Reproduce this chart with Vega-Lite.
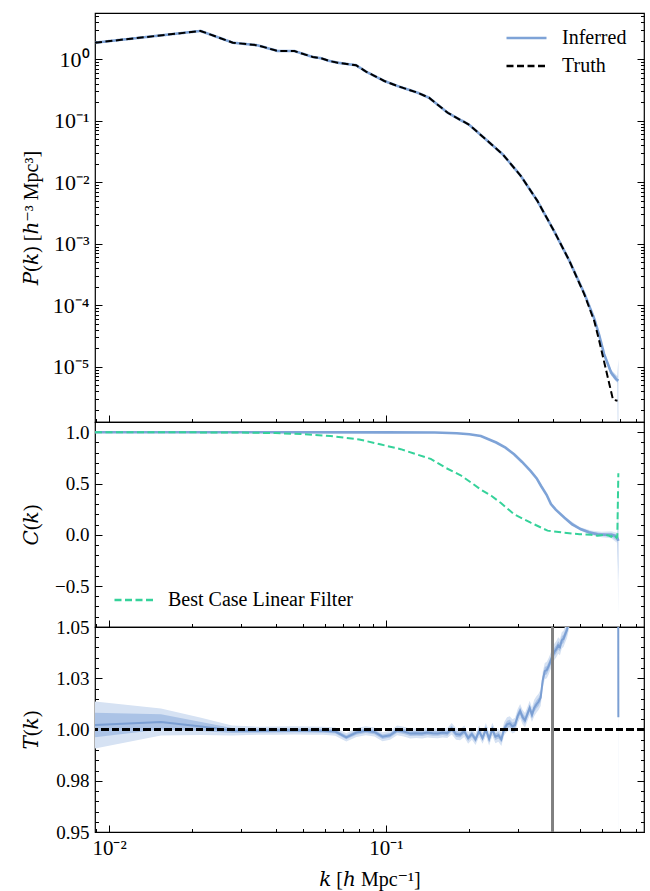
{
  "$schema": "https://vega.github.io/schema/vega-lite/v6.json",
  "padding": {"left": 20, "top": 12, "right": 5, "bottom": 5},
  "spacing": 0,
  "bounds": "flush",
  "resolve": {"scale": {"color": "independent", "strokeDash": "independent"}},
  "config": {
    "font": "Liberation Serif",
    "view": {"stroke": "#000000", "strokeWidth": 1.2},
    "axis": {"domain": false, "grid": false, "labelFont": "Liberation Serif", "labelFontSize": 19, "labelColor": "#000000", "titleFont": "Liberation Serif, DejaVu Serif", "titleFontSize": 20, "titleFontWeight": "normal", "titleColor": "#000000", "tickColor": "#000000", "tickWidth": 1, "labelOverlap": false, "labelFlush": false},
    "legend": {"labelFont": "Liberation Serif", "labelFontSize": 20, "labelColor": "#000000"}
  },
  "datasets": {
    "pk": [
      {"k": 0.0089, "P": 1.86, "s": "Truth"}, {"k": 0.0214, "P": 2.89, "s": "Truth"}, {"k": 0.028, "P": 1.86, "s": "Truth"}, {"k": 0.0344, "P": 1.69, "s": "Truth"}, {"k": 0.0407, "P": 1.36, "s": "Truth"}, {"k": 0.0467, "P": 1.36, "s": "Truth"}, {"k": 0.0544, "P": 1.09, "s": "Truth"}, {"k": 0.0583, "P": 1.04, "s": "Truth"}, {"k": 0.0624, "P": 0.94, "s": "Truth"}, {"k": 0.0669, "P": 0.88, "s": "Truth"}, {"k": 0.078, "P": 0.8, "s": "Truth"}, {"k": 0.0847, "P": 0.63, "s": "Truth"}, {"k": 0.0986, "P": 0.444, "s": "Truth"}, {"k": 0.11, "P": 0.368, "s": "Truth"}, {"k": 0.13, "P": 0.286, "s": "Truth"}, {"k": 0.143, "P": 0.237, "s": "Truth"}, {"k": 0.167, "P": 0.135, "s": "Truth"}, {"k": 0.2, "P": 0.0855, "s": "Truth"}, {"k": 0.229, "P": 0.05, "s": "Truth"}, {"k": 0.264, "P": 0.0284, "s": "Truth"}, {"k": 0.307, "P": 0.0126, "s": "Truth"}, {"k": 0.352, "P": 0.00498, "s": "Truth"}, {"k": 0.404, "P": 0.00162, "s": "Truth"}, {"k": 0.459, "P": 0.00053, "s": "Truth"}, {"k": 0.52, "P": 0.00015, "s": "Truth"}, {"k": 0.565, "P": 0.000055, "s": "Truth"}, {"k": 0.589, "P": 0.000026, "s": "Truth"}, {"k": 0.66, "P": 0.0000029, "s": "Truth"}, {"k": 0.685, "P": 0.0000028, "s": "Truth"},
      {"k": 0.0089, "P": 1.86, "s": "Inferred"}, {"k": 0.0214, "P": 2.89, "s": "Inferred"}, {"k": 0.028, "P": 1.86, "s": "Inferred"}, {"k": 0.0344, "P": 1.69, "s": "Inferred"}, {"k": 0.0407, "P": 1.36, "s": "Inferred"}, {"k": 0.0467, "P": 1.36, "s": "Inferred"}, {"k": 0.0544, "P": 1.09, "s": "Inferred"}, {"k": 0.0583, "P": 1.04, "s": "Inferred"}, {"k": 0.0624, "P": 0.94, "s": "Inferred"}, {"k": 0.0669, "P": 0.88, "s": "Inferred"}, {"k": 0.078, "P": 0.8, "s": "Inferred"}, {"k": 0.0847, "P": 0.63, "s": "Inferred"}, {"k": 0.0986, "P": 0.444, "s": "Inferred"}, {"k": 0.11, "P": 0.368, "s": "Inferred"}, {"k": 0.13, "P": 0.286, "s": "Inferred"}, {"k": 0.143, "P": 0.237, "s": "Inferred"}, {"k": 0.167, "P": 0.135, "s": "Inferred"}, {"k": 0.2, "P": 0.0855, "s": "Inferred"}, {"k": 0.229, "P": 0.05, "s": "Inferred"}, {"k": 0.264, "P": 0.0284, "s": "Inferred"}, {"k": 0.307, "P": 0.0126, "s": "Inferred"}, {"k": 0.352, "P": 0.00498, "s": "Inferred"}, {"k": 0.404, "P": 0.00162, "s": "Inferred"}, {"k": 0.459, "P": 0.00053, "s": "Inferred"}, {"k": 0.52, "P": 0.000155, "s": "Inferred"}, {"k": 0.565, "P": 0.00006, "s": "Inferred"}, {"k": 0.589, "P": 0.000032, "s": "Inferred"}, {"k": 0.613, "P": 0.000016, "s": "Inferred"}, {"k": 0.65, "P": 0.000008, "s": "Inferred"}, {"k": 0.677, "P": 0.0000063, "s": "Inferred"}, {"k": 0.69, "P": 0.0000059, "s": "Inferred"}
    ],
    "pkband": [
      {"k": 0.613, "lo": 0.0000148, "hi": 0.0000172},
      {"k": 0.65, "lo": 0.0000072, "hi": 0.0000088},
      {"k": 0.684, "lo": 0.0000055, "hi": 0.000007},
      {"k": 0.69, "lo": 0.0000001, "hi": 0.0000133}
    ],
    "cb": [
      {"k": 0.0089, "c": 1.0}, {"k": 0.1, "c": 0.999}, {"k": 0.15, "c": 0.997}, {"k": 0.18, "c": 0.99}, {"k": 0.2, "c": 0.98}, {"k": 0.22, "c": 0.963}, {"k": 0.25, "c": 0.9}, {"k": 0.27, "c": 0.85}, {"k": 0.29, "c": 0.785}, {"k": 0.31, "c": 0.71}, {"k": 0.333, "c": 0.62}, {"k": 0.35, "c": 0.55}, {"k": 0.363, "c": 0.476}, {"k": 0.38, "c": 0.39}, {"k": 0.394, "c": 0.3}, {"k": 0.41, "c": 0.245}, {"k": 0.441, "c": 0.166}, {"k": 0.47, "c": 0.1}, {"k": 0.506, "c": 0.053}, {"k": 0.54, "c": 0.025}, {"k": 0.58, "c": 0.004}, {"k": 0.62, "c": 0.0}, {"k": 0.65, "c": 0.0}, {"k": 0.67, "c": -0.01}, {"k": 0.684, "c": -0.03}, {"k": 0.69, "c": -0.06}
    ],
    "cband": [
      {"k": 0.45, "ilo": 0.145, "ihi": 0.155, "olo": 0.14, "ohi": 0.16},
      {"k": 0.5, "ilo": 0.052, "ihi": 0.068, "olo": 0.045, "ohi": 0.075},
      {"k": 0.55, "ilo": 0.008, "ihi": 0.032, "olo": -0.002, "ohi": 0.042},
      {"k": 0.6, "ilo": -0.013, "ihi": 0.017, "olo": -0.025, "ohi": 0.03},
      {"k": 0.65, "ilo": -0.02, "ihi": 0.02, "olo": -0.035, "ohi": 0.035},
      {"k": 0.684, "ilo": -0.06, "ihi": 0.0, "olo": -0.08, "ohi": 0.02},
      {"k": 0.69, "ilo": -0.44, "ihi": 0.14, "olo": -0.79, "ohi": 0.665}
    ],
    "cg": [
      {"k": 0.0089, "g": 1.0, "s": "Best Case Linear Filter"}, {"k": 0.02, "g": 0.999, "s": "Best Case Linear Filter"}, {"k": 0.03, "g": 0.997, "s": "Best Case Linear Filter"}, {"k": 0.04, "g": 0.992, "s": "Best Case Linear Filter"}, {"k": 0.05, "g": 0.982, "s": "Best Case Linear Filter"}, {"k": 0.063, "g": 0.963, "s": "Best Case Linear Filter"}, {"k": 0.08, "g": 0.93, "s": "Best Case Linear Filter"}, {"k": 0.096, "g": 0.88, "s": "Best Case Linear Filter"}, {"k": 0.113, "g": 0.835, "s": "Best Case Linear Filter"}, {"k": 0.127, "g": 0.79, "s": "Best Case Linear Filter"}, {"k": 0.145, "g": 0.74, "s": "Best Case Linear Filter"}, {"k": 0.165, "g": 0.65, "s": "Best Case Linear Filter"}, {"k": 0.186, "g": 0.58, "s": "Best Case Linear Filter"}, {"k": 0.205, "g": 0.5, "s": "Best Case Linear Filter"}, {"k": 0.22, "g": 0.44, "s": "Best Case Linear Filter"}, {"k": 0.24, "g": 0.38, "s": "Best Case Linear Filter"}, {"k": 0.26, "g": 0.31, "s": "Best Case Linear Filter"}, {"k": 0.29, "g": 0.2, "s": "Best Case Linear Filter"}, {"k": 0.333, "g": 0.118, "s": "Best Case Linear Filter"}, {"k": 0.383, "g": 0.04, "s": "Best Case Linear Filter"}, {"k": 0.44, "g": 0.02, "s": "Best Case Linear Filter"}, {"k": 0.5, "g": 0.005, "s": "Best Case Linear Filter"}, {"k": 0.55, "g": 0.0, "s": "Best Case Linear Filter"}, {"k": 0.58, "g": -0.01, "s": "Best Case Linear Filter"}, {"k": 0.62, "g": 0.0, "s": "Best Case Linear Filter"}, {"k": 0.64, "g": -0.01, "s": "Best Case Linear Filter"}, {"k": 0.65, "g": -0.02, "s": "Best Case Linear Filter"}, {"k": 0.66, "g": 0.0, "s": "Best Case Linear Filter"}, {"k": 0.67, "g": -0.01, "s": "Best Case Linear Filter"}, {"k": 0.68, "g": -0.03, "s": "Best Case Linear Filter"}, {"k": 0.684, "g": -0.02, "s": "Best Case Linear Filter"}, {"k": 0.69, "g": 0.6, "s": "Best Case Linear Filter"}
    ],
    "tk": [
      {"k": 0.0089, "t": 1.0022, "ilo": 0.9962, "ihi": 1.0082, "olo": 0.9907, "ohi": 1.0137},
      {"k": 0.0154, "t": 1.0037, "ilo": 1.0000, "ihi": 1.0074, "olo": 0.9971, "ohi": 1.0103},
      {"k": 0.0215, "t": 1.0015, "ilo": 0.9993, "ihi": 1.0037, "olo": 0.9973, "ohi": 1.0057},
      {"k": 0.0278, "t": 0.9995, "ilo": 0.9983, "ihi": 1.0007, "olo": 0.9971, "ohi": 1.0019},
      {"k": 0.0341, "t": 0.9994, "ilo": 0.9984, "ihi": 1.0004, "olo": 0.9974, "ohi": 1.0014},
      {"k": 0.0404, "t": 0.9995, "ilo": 0.9985, "ihi": 1.0005, "olo": 0.9975, "ohi": 1.0015},
      {"k": 0.0467, "t": 0.9996, "ilo": 0.9986, "ihi": 1.0006, "olo": 0.9976, "ohi": 1.0016},
      {"k": 0.0530, "t": 0.9995, "ilo": 0.9985, "ihi": 1.0005, "olo": 0.9975, "ohi": 1.0015},
      {"k": 0.0593, "t": 0.9994, "ilo": 0.9984, "ihi": 1.0004, "olo": 0.9974, "ohi": 1.0014},
      {"k": 0.0656, "t": 0.9990, "ilo": 0.9980, "ihi": 1.0000, "olo": 0.9970, "ohi": 1.0010},
      {"k": 0.0719, "t": 0.9962, "ilo": 0.9952, "ihi": 0.9972, "olo": 0.9942, "ohi": 0.9982},
      {"k": 0.0782, "t": 0.9985, "ilo": 0.9974, "ihi": 0.9996, "olo": 0.9963, "ohi": 1.0007},
      {"k": 0.0845, "t": 0.9994, "ilo": 0.9983, "ihi": 1.0005, "olo": 0.9972, "ohi": 1.0016},
      {"k": 0.0908, "t": 0.9988, "ilo": 0.9977, "ihi": 0.9999, "olo": 0.9966, "ohi": 1.0010},
      {"k": 0.0971, "t": 0.9965, "ilo": 0.9954, "ihi": 0.9976, "olo": 0.9943, "ohi": 0.9987},
      {"k": 0.1034, "t": 0.9972, "ilo": 0.9961, "ihi": 0.9983, "olo": 0.9950, "ohi": 0.9994},
      {"k": 0.1097, "t": 0.9996, "ilo": 0.9984, "ihi": 1.0008, "olo": 0.9972, "ohi": 1.0020},
      {"k": 0.1160, "t": 0.9990, "ilo": 0.9978, "ihi": 1.0002, "olo": 0.9966, "ohi": 1.0014},
      {"k": 0.1223, "t": 0.9980, "ilo": 0.9968, "ihi": 0.9992, "olo": 0.9956, "ohi": 1.0004},
      {"k": 0.1286, "t": 0.9982, "ilo": 0.9970, "ihi": 0.9994, "olo": 0.9958, "ohi": 1.0006},
      {"k": 0.1349, "t": 0.9980, "ilo": 0.9968, "ihi": 0.9992, "olo": 0.9956, "ohi": 1.0004},
      {"k": 0.1412, "t": 0.9985, "ilo": 0.9973, "ihi": 0.9997, "olo": 0.9961, "ohi": 1.0009},
      {"k": 0.1475, "t": 0.9982, "ilo": 0.9970, "ihi": 0.9994, "olo": 0.9958, "ohi": 1.0006},
      {"k": 0.1538, "t": 0.9981, "ilo": 0.9969, "ihi": 0.9993, "olo": 0.9957, "ohi": 1.0005},
      {"k": 0.1601, "t": 0.9985, "ilo": 0.9973, "ihi": 0.9997, "olo": 0.9961, "ohi": 1.0009},
      {"k": 0.1664, "t": 0.9982, "ilo": 0.9970, "ihi": 0.9994, "olo": 0.9958, "ohi": 1.0006},
      {"k": 0.1727, "t": 1.0004, "ilo": 0.9990, "ihi": 1.0018, "olo": 0.9976, "ohi": 1.0032},
      {"k": 0.1790, "t": 0.9978, "ilo": 0.9964, "ihi": 0.9992, "olo": 0.9950, "ohi": 1.0006},
      {"k": 0.1853, "t": 0.9975, "ilo": 0.9961, "ihi": 0.9989, "olo": 0.9947, "ohi": 1.0003},
      {"k": 0.1916, "t": 0.9992, "ilo": 0.9978, "ihi": 1.0006, "olo": 0.9964, "ohi": 1.0020},
      {"k": 0.1979, "t": 0.9958, "ilo": 0.9944, "ihi": 0.9972, "olo": 0.9930, "ohi": 0.9986},
      {"k": 0.2042, "t": 0.9978, "ilo": 0.9964, "ihi": 0.9992, "olo": 0.9950, "ohi": 1.0006},
      {"k": 0.2105, "t": 0.9952, "ilo": 0.9938, "ihi": 0.9966, "olo": 0.9924, "ohi": 0.9980},
      {"k": 0.2168, "t": 0.9992, "ilo": 0.9978, "ihi": 1.0006, "olo": 0.9964, "ohi": 1.0020},
      {"k": 0.2231, "t": 0.9958, "ilo": 0.9944, "ihi": 0.9972, "olo": 0.9930, "ohi": 0.9986},
      {"k": 0.2294, "t": 1.0000, "ilo": 0.9984, "ihi": 1.0016, "olo": 0.9968, "ohi": 1.0032},
      {"k": 0.2357, "t": 0.9954, "ilo": 0.9938, "ihi": 0.9970, "olo": 0.9922, "ohi": 0.9986},
      {"k": 0.2420, "t": 1.0001, "ilo": 0.9985, "ihi": 1.0017, "olo": 0.9969, "ohi": 1.0033},
      {"k": 0.2483, "t": 0.9965, "ilo": 0.9949, "ihi": 0.9981, "olo": 0.9933, "ohi": 0.9997},
      {"k": 0.2546, "t": 0.9972, "ilo": 0.9956, "ihi": 0.9988, "olo": 0.9940, "ohi": 1.0004},
      {"k": 0.2609, "t": 0.9952, "ilo": 0.9936, "ihi": 0.9968, "olo": 0.9920, "ohi": 0.9984},
      {"k": 0.2672, "t": 1.0004, "ilo": 0.9988, "ihi": 1.0020, "olo": 0.9972, "ohi": 1.0036},
      {"k": 0.2735, "t": 1.0025, "ilo": 1.0007, "ihi": 1.0043, "olo": 0.9990, "ohi": 1.0060},
      {"k": 0.2798, "t": 1.0030, "ilo": 1.0012, "ihi": 1.0048, "olo": 0.9995, "ohi": 1.0065},
      {"k": 0.2861, "t": 1.0015, "ilo": 0.9997, "ihi": 1.0033, "olo": 0.9980, "ohi": 1.0050},
      {"k": 0.2924, "t": 1.0022, "ilo": 1.0004, "ihi": 1.0040, "olo": 0.9987, "ohi": 1.0057},
      {"k": 0.2987, "t": 1.0065, "ilo": 1.0047, "ihi": 1.0083, "olo": 1.0030, "ohi": 1.0100},
      {"k": 0.3050, "t": 1.0090, "ilo": 1.0072, "ihi": 1.0108, "olo": 1.0055, "ohi": 1.0125},
      {"k": 0.3113, "t": 1.0060, "ilo": 1.0042, "ihi": 1.0078, "olo": 1.0025, "ohi": 1.0095},
      {"k": 0.3176, "t": 1.0045, "ilo": 1.0027, "ihi": 1.0063, "olo": 1.0010, "ohi": 1.0080},
      {"k": 0.3239, "t": 1.0075, "ilo": 1.0057, "ihi": 1.0093, "olo": 1.0040, "ohi": 1.0110},
      {"k": 0.3302, "t": 1.0105, "ilo": 1.0087, "ihi": 1.0123, "olo": 1.0070, "ohi": 1.0140},
      {"k": 0.3365, "t": 1.0072, "ilo": 1.0054, "ihi": 1.0090, "olo": 1.0037, "ohi": 1.0107},
      {"k": 0.3428, "t": 1.0105, "ilo": 1.0085, "ihi": 1.0125, "olo": 1.0065, "ohi": 1.0145},
      {"k": 0.3491, "t": 1.0122, "ilo": 1.0102, "ihi": 1.0142, "olo": 1.0082, "ohi": 1.0162},
      {"k": 0.3554, "t": 1.0135, "ilo": 1.0115, "ihi": 1.0155, "olo": 1.0095, "ohi": 1.0175},
      {"k": 0.3617, "t": 1.0155, "ilo": 1.0135, "ihi": 1.0175, "olo": 1.0115, "ohi": 1.0195},
      {"k": 0.3680, "t": 1.0240, "ilo": 1.0220, "ihi": 1.0260, "olo": 1.0200, "ohi": 1.0280},
      {"k": 0.3743, "t": 1.0285, "ilo": 1.0265, "ihi": 1.0305, "olo": 1.0245, "ohi": 1.0325},
      {"k": 0.3806, "t": 1.0290, "ilo": 1.0270, "ihi": 1.0310, "olo": 1.0250, "ohi": 1.0330},
      {"k": 0.3869, "t": 1.0310, "ilo": 1.0290, "ihi": 1.0330, "olo": 1.0270, "ohi": 1.0350},
      {"k": 0.3932, "t": 1.0335, "ilo": 1.0315, "ihi": 1.0355, "olo": 1.0295, "ohi": 1.0375},
      {"k": 0.3995, "t": 1.0360, "ilo": 1.0340, "ihi": 1.0380, "olo": 1.0320, "ohi": 1.0400},
      {"k": 0.4058, "t": 1.0380, "ilo": 1.0360, "ihi": 1.0400, "olo": 1.0340, "ohi": 1.0420},
      {"k": 0.4121, "t": 1.0392, "ilo": 1.0372, "ihi": 1.0412, "olo": 1.0352, "ohi": 1.0432},
      {"k": 0.4184, "t": 1.0410, "ilo": 1.0390, "ihi": 1.0430, "olo": 1.0370, "ohi": 1.0450},
      {"k": 0.4247, "t": 1.0402, "ilo": 1.0382, "ihi": 1.0422, "olo": 1.0362, "ohi": 1.0442},
      {"k": 0.4310, "t": 1.0435, "ilo": 1.0415, "ihi": 1.0455, "olo": 1.0395, "ohi": 1.0475},
      {"k": 0.4373, "t": 1.0442, "ilo": 1.0422, "ihi": 1.0462, "olo": 1.0402, "ohi": 1.0482},
      {"k": 0.4436, "t": 1.0465, "ilo": 1.0445, "ihi": 1.0485, "olo": 1.0425, "ohi": 1.0505},
      {"k": 0.4499, "t": 1.0485, "ilo": 1.0465, "ihi": 1.0505, "olo": 1.0445, "ohi": 1.0525},
      {"k": 0.4562, "t": 1.0520, "ilo": 1.0500, "ihi": 1.0540, "olo": 1.0480, "ohi": 1.0560},
      {"k": 0.4625, "t": 1.0560, "ilo": 1.0540, "ihi": 1.0580, "olo": 1.0520, "ohi": 1.0600},
      {"k": 0.4688, "t": 1.0600, "ilo": 1.0580, "ihi": 1.0620, "olo": 1.0560, "ohi": 1.0640},
      {"k": 0.5000, "t": 1.0900, "ilo": 1.0880, "ihi": 1.0920, "olo": 1.0860, "ohi": 1.0940},
      {"k": 0.6000, "t": 1.2500, "ilo": 1.2450, "ihi": 1.2550, "olo": 1.2400, "ohi": 1.2600},
      {"k": 0.6840, "t": 1.5000, "ilo": 1.4900, "ihi": 1.5100, "olo": 1.4800, "ohi": 1.5200},
      {"k": 0.6900, "t": 1.0060, "ilo": 1.0000, "ihi": 1.2000, "olo": 0.9000, "ohi": 1.3000}
    ]
  },
  "vconcat": [
    {
      "width": 549,
      "height": 409,
      "layer": [
        {
          "data": {"name": "pkband"},
          "mark": {"type": "area", "color": "#c3d5ee", "clip": true},
          "encoding": {
            "x": {"field": "k", "type": "quantitative", "scale": {"type": "log", "domain": [0.0089, 0.854], "nice": false},
              "axis": {"orient": "bottom", "values": [0.01, 0.1], "tickSize": -7, "labels": false, "title": null}},
            "y": {"field": "lo", "type": "quantitative", "scale": {"type": "log", "domain": [1.26e-6, 5.66], "nice": false},
              "axis": {"orient": "left", "values": [1e-5, 1e-4, 0.001, 0.01, 0.1, 1], "tickSize": -7, "labelPadding": 13, "labelFontSize": 22,
                "labelExpr": "['10⁻⁵','10⁻⁴','10⁻³','10⁻²','10⁻¹','10⁰'][round(log(datum.value)/LN10)+5]",
                "title": "𝑃(𝑘) [ℎ⁻³ Mpc³]", "titleX": -64, "titleBaseline": "middle"}},
            "y2": {"field": "hi"}
          }
        },
        {
          "data": {"name": "pk"},
          "transform": [{"filter": "datum.s == 'Inferred'"}],
          "mark": {"type": "line", "strokeWidth": 2.6, "clip": true},
          "encoding": {
            "x": {"field": "k", "type": "quantitative",
              "axis": {"orient": "bottom", "values": [0.009,0.02,0.03,0.04,0.05,0.06,0.07,0.08,0.09,0.2,0.3,0.4,0.5,0.6,0.7,0.8], "tickSize": -3.5, "labels": false, "title": null}},
            "y": {"field": "P", "type": "quantitative",
              "axis": {"orient": "left", "values": [2e-6,3e-6,4e-6,5e-6,6e-6,7e-6,8e-6,9e-6,2e-5,3e-5,4e-5,5e-5,6e-5,7e-5,8e-5,9e-5,2e-4,3e-4,4e-4,5e-4,6e-4,7e-4,8e-4,9e-4,0.002,0.003,0.004,0.005,0.006,0.007,0.008,0.009,0.02,0.03,0.04,0.05,0.06,0.07,0.08,0.09,0.2,0.3,0.4,0.5,0.6,0.7,0.8,0.9,2,3,4,5], "tickSize": -3.5, "labels": false, "title": null}},
            "color": {"field": "s", "type": "nominal", "scale": {"domain": ["Inferred", "Truth"], "range": ["#7ea3d7", "#000000"]},
              "legend": {"title": null, "orient": "none", "legendX": 410, "legendY": 15, "symbolType": "stroke", "symbolSize": 1600, "symbolStrokeWidth": 2.3, "labelOffset": 14, "clipHeight": 20, "rowPadding": 8, "padding": 0}},
            "strokeDash": {"field": "s", "type": "nominal", "scale": {"domain": ["Inferred", "Truth"], "range": [[1, 0], [7, 3.5]]},
              "legend": {"title": null, "orient": "none", "legendX": 410, "legendY": 15, "symbolType": "stroke", "symbolSize": 1600, "symbolStrokeWidth": 2.3, "labelOffset": 14, "clipHeight": 20, "rowPadding": 8, "padding": 0}}
          }
        },
        {
          "data": {"name": "pk"},
          "transform": [{"filter": "datum.s == 'Truth'"}],
          "mark": {"type": "line", "strokeWidth": 2, "clip": true},
          "encoding": {
            "x": {"field": "k", "type": "quantitative", "axis": null},
            "y": {"field": "P", "type": "quantitative",
              "axis": {"orient": "right", "values": [1e-5, 1e-4, 0.001, 0.01, 0.1, 1], "tickSize": -7, "labels": false, "title": null}},
            "color": {"field": "s", "type": "nominal",
              "legend": {"title": null, "orient": "none", "legendX": 410, "legendY": 15, "symbolType": "stroke", "symbolSize": 1600, "symbolStrokeWidth": 2.3, "labelOffset": 14, "clipHeight": 20, "rowPadding": 8, "padding": 0}},
            "strokeDash": {"field": "s", "type": "nominal",
              "legend": {"title": null, "orient": "none", "legendX": 410, "legendY": 15, "symbolType": "stroke", "symbolSize": 1600, "symbolStrokeWidth": 2.3, "labelOffset": 14, "clipHeight": 20, "rowPadding": 8, "padding": 0}}
          }
        },
        {
          "mark": {"type": "rule", "strokeOpacity": 0},
          "encoding": {
            "y": {"datum": 1,
              "axis": {"orient": "right", "values": [2e-6,3e-6,4e-6,5e-6,6e-6,7e-6,8e-6,9e-6,2e-5,3e-5,4e-5,5e-5,6e-5,7e-5,8e-5,9e-5,2e-4,3e-4,4e-4,5e-4,6e-4,7e-4,8e-4,9e-4,0.002,0.003,0.004,0.005,0.006,0.007,0.008,0.009,0.02,0.03,0.04,0.05,0.06,0.07,0.08,0.09,0.2,0.3,0.4,0.5,0.6,0.7,0.8,0.9,2,3,4,5], "tickSize": -3.5, "labels": false, "title": null}}
          }
        }
      ],
      "resolve": {"axis": {"x": "independent", "y": "independent"}}
    },
    {
      "width": 549,
      "height": 205,
      "layer": [
        {
          "data": {"name": "cband"},
          "mark": {"type": "area", "color": "#dbe6f5", "clip": true},
          "encoding": {
            "x": {"field": "k", "type": "quantitative", "scale": {"type": "log", "domain": [0.0089, 0.854], "nice": false},
              "axis": {"orient": "bottom", "values": [0.01, 0.1], "tickSize": -7, "labels": false, "title": null}},
            "y": {"field": "olo", "type": "quantitative", "scale": {"domain": [-0.9, 1.1], "nice": false, "zero": false},
              "axis": {"orient": "left", "values": [-0.5, 0, 0.5, 1], "tickSize": -7, "labelPadding": 13,
                "labelExpr": "replace(format(datum.value, '.1f'), '-', '−')",
                "title": "𝐶(𝑘)", "titleX": -64, "titleBaseline": "middle"}},
            "y2": {"field": "ohi"}
          }
        },
        {
          "data": {"name": "cband"},
          "mark": {"type": "area", "color": "#b7cbea", "clip": true},
          "encoding": {
            "x": {"field": "k", "type": "quantitative",
              "axis": {"orient": "bottom", "values": [0.009,0.02,0.03,0.04,0.05,0.06,0.07,0.08,0.09,0.2,0.3,0.4,0.5,0.6,0.7,0.8], "tickSize": -3.5, "labels": false, "title": null}},
            "y": {"field": "ilo", "type": "quantitative",
              "axis": {"orient": "left", "values": [-0.8,-0.7,-0.6,-0.4,-0.3,-0.2,-0.1,0.1,0.2,0.3,0.4,0.6,0.7,0.8,0.9], "tickSize": -3.5, "labels": false, "title": null}},
            "y2": {"field": "ihi"}
          }
        },
        {
          "data": {"name": "cb"},
          "mark": {"type": "line", "color": "#7ea3d7", "strokeWidth": 2.6, "clip": true},
          "encoding": {
            "x": {"field": "k", "type": "quantitative", "axis": null},
            "y": {"field": "c", "type": "quantitative",
              "axis": {"orient": "right", "values": [-0.5, 0, 0.5, 1], "tickSize": -7, "labels": false, "title": null}}
          }
        },
        {
          "mark": {"type": "rule", "color": "#000000", "strokeWidth": 2, "strokeDash": [7, 3.5]},
          "encoding": {
            "y": {"datum": 1,
              "axis": {"orient": "right", "values": [-0.8,-0.7,-0.6,-0.4,-0.3,-0.2,-0.1,0.1,0.2,0.3,0.4,0.6,0.7,0.8,0.9], "tickSize": -3.5, "labels": false, "title": null}}
          }
        },
        {
          "data": {"name": "cg"},
          "mark": {"type": "line", "strokeWidth": 2, "clip": true},
          "encoding": {
            "x": {"field": "k", "type": "quantitative", "axis": null},
            "y": {"field": "g", "type": "quantitative", "axis": null},
            "color": {"field": "s", "type": "nominal", "scale": {"domain": ["Best Case Linear Filter"], "range": ["#35d29a"]},
              "legend": {"title": null, "orient": "none", "legendX": 18, "legendY": 168, "symbolType": "stroke", "symbolSize": 1600, "symbolStrokeWidth": 2.3, "labelOffset": 12, "clipHeight": 20, "padding": 0, "labelLimit": 400}},
            "strokeDash": {"field": "s", "type": "nominal", "scale": {"domain": ["Best Case Linear Filter"], "range": [[7, 3.5]]},
              "legend": {"title": null, "orient": "none", "legendX": 18, "legendY": 168, "symbolType": "stroke", "symbolSize": 1600, "symbolStrokeWidth": 2.3, "labelOffset": 12, "clipHeight": 20, "padding": 0, "labelLimit": 400}}
          }
        }
      ],
      "resolve": {"axis": {"x": "independent", "y": "independent"}}
    },
    {
      "width": 549,
      "height": 205,
      "data": {"name": "tk"},
      "layer": [
        {
          "mark": {"type": "area", "color": "#d6e2f3", "clip": true},
          "encoding": {
            "x": {"field": "k", "type": "quantitative", "scale": {"type": "log", "domain": [0.0089, 0.854], "nice": false},
              "axis": {"orient": "bottom", "values": [0.01, 0.1], "tickSize": -7, "labelPadding": 12, "labelFontSize": 21,
                "labelExpr": "datum.value == 0.01 ? '10⁻²' : '10⁻¹'",
                "title": "𝑘 [ℎ Mpc⁻¹]", "titleY": 47, "titleBaseline": "middle"}},
            "y": {"field": "olo", "type": "quantitative", "scale": {"domain": [0.95, 1.05], "nice": false, "zero": false},
              "axis": {"orient": "left", "values": [0.95, 0.975, 1, 1.025, 1.05], "tickSize": -7, "labelPadding": 13,
                "labelExpr": "format(datum.value + 0.000001, '.2f')",
                "title": "𝑇(𝑘)", "titleX": -64, "titleBaseline": "middle"}},
            "y2": {"field": "ohi"}
          }
        },
        {
          "mark": {"type": "area", "color": "#abc3e6", "clip": true},
          "encoding": {
            "x": {"field": "k", "type": "quantitative",
              "axis": {"orient": "bottom", "values": [0.009,0.02,0.03,0.04,0.05,0.06,0.07,0.08,0.09,0.2,0.3,0.4,0.5,0.6,0.7,0.8], "tickSize": -3.5, "labels": false, "title": null}},
            "y": {"field": "ilo", "type": "quantitative",
              "axis": {"orient": "left", "values": [0.955,0.96,0.965,0.97,0.98,0.985,0.99,0.995,1.005,1.01,1.015,1.02,1.03,1.035,1.04,1.045], "tickSize": -3.5, "labels": false, "title": null}},
            "y2": {"field": "ihi"}
          }
        },
        {
          "mark": {"type": "line", "color": "#7b9fd3", "strokeWidth": 2, "clip": true},
          "encoding": {
            "x": {"field": "k", "type": "quantitative", "axis": null},
            "y": {"field": "t", "type": "quantitative",
              "axis": {"orient": "right", "values": [0.95, 0.975, 1, 1.025, 1.05], "tickSize": -7, "labels": false, "title": null}}
          }
        },
        {
          "mark": {"type": "rule", "color": "#000000", "strokeWidth": 2, "strokeDash": [7, 3.5]},
          "encoding": {
            "y": {"datum": 1,
              "axis": {"orient": "right", "values": [0.955,0.96,0.965,0.97,0.98,0.985,0.99,0.995,1.005,1.01,1.015,1.02,1.03,1.035,1.04,1.045], "tickSize": -3.5, "labels": false, "title": null}}
          }
        },
        {
          "mark": {"type": "rule", "color": "#808080", "strokeWidth": 1.8},
          "encoding": {"x": {"datum": 0.4, "axis": null}}
        }
      ],
      "resolve": {"axis": {"x": "independent", "y": "independent"}}
    }
  ]
}
